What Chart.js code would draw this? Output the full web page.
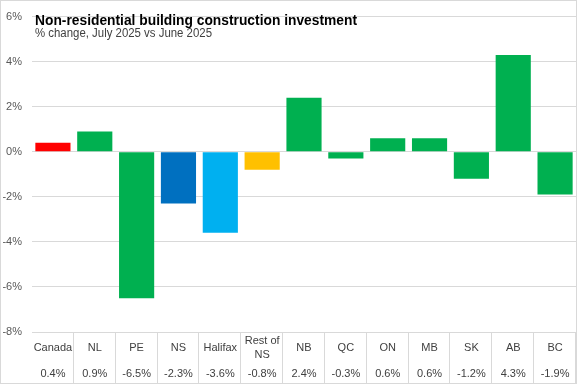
<!DOCTYPE html>
<html>
<head>
<meta charset="utf-8">
<script src="https://cdn.jsdelivr.net/npm/chart.js@4/dist/chart.umd.min.js"></script>
<style>
html,body{margin:0;padding:0;background:#fff;}
#wrap{width:577px;height:385px;position:relative;}
</style>
</head>
<body>
<div id="wrap"><canvas id="c" width="577" height="385"></canvas></div>
<script>
const categories = ["Canada","NL","PE","NS","Halifax","Rest of NS","NB","QC","ON","MB","SK","AB","BC"];
const tableLabels = [["Canada"],["NL"],["PE"],["NS"],["Halifax"],["Rest of","NS"],["NB"],["QC"],["ON"],["MB"],["SK"],["AB"],["BC"]];
const values = [0.4, 0.9, -6.5, -2.3, -3.6, -0.8, 2.4, -0.3, 0.6, 0.6, -1.2, 4.3, -1.9];
const valueLabels = ["0.4%","0.9%","-6.5%","-2.3%","-3.6%","-0.8%","2.4%","-0.3%","0.6%","0.6%","-1.2%","4.3%","-1.9%"];
const barColors = ["#FF0000","#00B050","#00B050","#0070C0","#00B0F0","#FFC000","#00B050","#00B050","#00B050","#00B050","#00B050","#00B050","#00B050"];
const yTicks = [-8,-6,-4,-2,0,2,4,6];
const titleText = "Non-residential building construction investment";
const subtitleText = "% change, July 2025 vs June 2025";

const FONT = "'Liberation Sans', Arial, sans-serif";

function fitText(ctx, text, x, y, width) {
  const m = ctx.measureText(text).width;
  const s = width / m;
  ctx.save();
  ctx.translate(x, y);
  ctx.scale(s, 1);
  ctx.fillText(text, 0, 0);
  ctx.restore();
}

const overlay = {
  id: 'overlay',
  afterDraw(chart) {
    const ctx = chart.ctx;
    const x = chart.scales.x;
    const area = chart.chartArea;
    const n = categories.length;
    const w = (area.right - area.left) / n;
    ctx.save();
    ctx.strokeStyle = '#D9D9D9';
    ctx.lineWidth = 1;
    for (let i = 1; i <= n; i++) {
      const xx = Math.round(area.left + i * w) - 0.5;
      ctx.beginPath();
      ctx.moveTo(xx, area.bottom);
      ctx.lineTo(xx, 384);
      ctx.stroke();
    }
    ctx.strokeRect(0.5, 0.5, 576, 383);
    ctx.fillStyle = '#404040';
    ctx.font = "11px " + FONT;
    ctx.textAlign = 'center';
    ctx.textBaseline = 'middle';
    for (let i = 0; i < n; i++) {
      const cx = x.getPixelForValue(i);
      const lines = tableLabels[i];
      if (lines.length === 1) {
        ctx.fillText(lines[0], cx, 348);
      } else {
        ctx.fillText(lines[0], cx, 341);
        ctx.fillText(lines[1], cx, 355);
      }
      ctx.fillText(valueLabels[i], cx, 374);
    }
    ctx.textAlign = 'left';
    ctx.textBaseline = 'alphabetic';
    ctx.fillStyle = '#000000';
    ctx.font = "bold 15.5px " + FONT;
    fitText(ctx, titleText, 35, 25, 322);
    ctx.fillStyle = '#404040';
    ctx.font = "12px " + FONT;
    fitText(ctx, subtitleText, 35, 37, 177);
    ctx.restore();
  }
};

new Chart(document.getElementById('c'), {
  type: 'bar',
  data: {
    labels: categories,
    datasets: [{
      data: values,
      backgroundColor: barColors,
      borderWidth: 0,
      categoryPercentage: 1,
      barPercentage: 0.84
    }]
  },
  options: {
    responsive: false,
    animation: false,
    devicePixelRatio: 1,
    layout: { padding: { top: 7, bottom: 53, left: 0, right: 1 } },
    plugins: { legend: { display: false }, tooltip: { enabled: false }, title: { display: false } },
    scales: {
      x: { display: false, grid: { display: false } },
      y: {
        min: -8, max: 6,
        afterBuildTicks(s) { s.ticks = yTicks.map(v => ({ value: v })); },
        afterFit(s) { s.width = 32; },
        border: { display: false },
        grid: { color: '#D9D9D9', drawTicks: false, lineWidth: 1 },
        ticks: {
          padding: 10,
          color: '#595959',
          font: { family: FONT, size: 11 },
          callback: v => v + '%'
        }
      }
    }
  },
  plugins: [overlay]
});
</script>
</body>
</html>
